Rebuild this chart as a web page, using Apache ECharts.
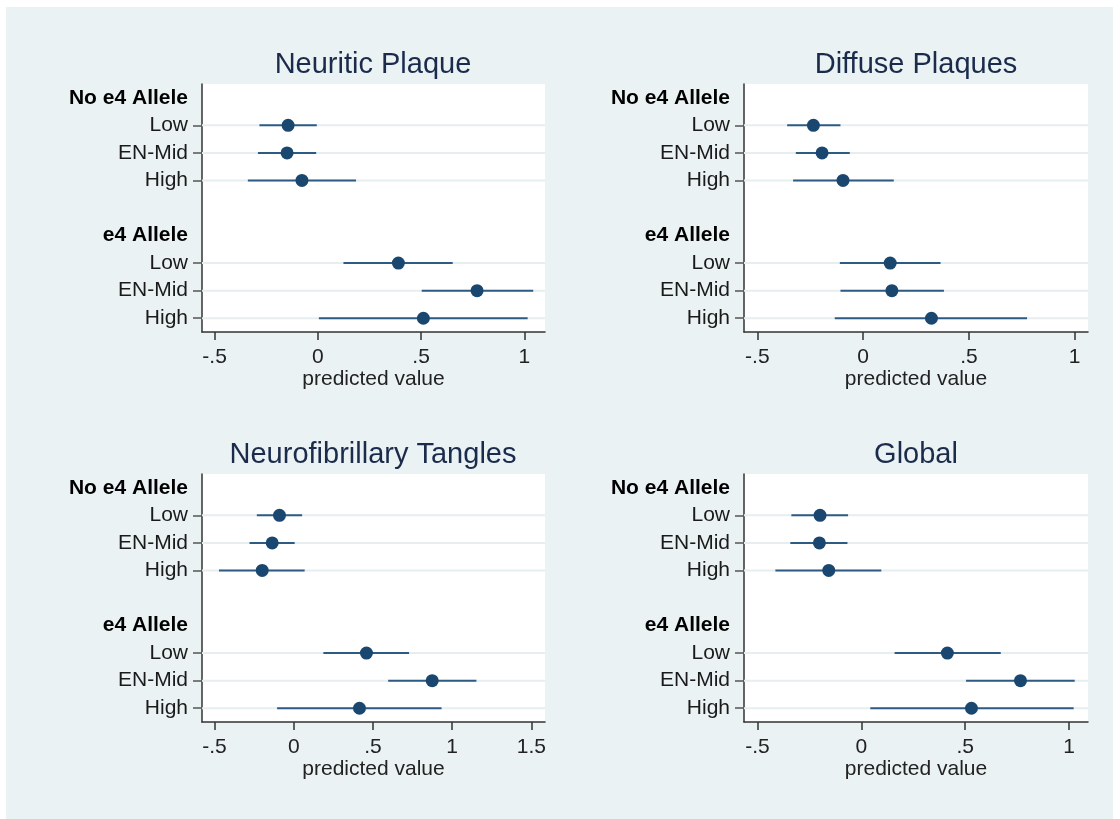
<!DOCTYPE html>
<html>
<head>
<meta charset="utf-8">
<script src="https://cdn.jsdelivr.net/npm/echarts@6/dist/echarts.min.js"></script>
<style>
  html, body { margin: 0; padding: 0; background: #ffffff; }
  #bg { position: absolute; left: 6px; top: 7px; width: 1107px; height: 812px; background: #EAF2F3; }
  #chart { position: absolute; left: 0; top: 0; width: 1120px; height: 819px; }
</style>
</head>
<body>
<div id="bg"></div>
<div id="chart"></div>
<script>
// ---- data ----
const rowLabels = ['No e4 Allele', 'Low', 'EN-Mid', 'High', '', 'e4 Allele', 'Low', 'EN-Mid', 'High'];
const headerRows = [0, 5];
const dataRows = [1, 2, 3, 6, 7, 8];

const titles = ['Neuritic Plaque', 'Diffuse Plaques', 'Neurofibrillary Tangles', 'Global'];

const npEst = [-0.144, -0.149, -0.077, 0.390, 0.771, 0.511];
const npLo  = [-0.283, -0.290, -0.339, 0.124, 0.503, 0.005];
const npHi  = [-0.005, -0.008, 0.185, 0.653, 1.043, 1.016];

const dpEst = [-0.235, -0.194, -0.095, 0.128, 0.136, 0.323];
const dpLo  = [-0.359, -0.318, -0.331, -0.110, -0.107, -0.134];
const dpHi  = [-0.107, -0.063, 0.145, 0.366, 0.382, 0.775];

const nftEst = [-0.090, -0.136, -0.199, 0.459, 0.874, 0.415];
const nftLo  = [-0.233, -0.279, -0.472, 0.187, 0.596, -0.105];
const nftHi  = [0.053, 0.006, 0.069, 0.728, 1.153, 0.933];

const glEst = [-0.199, -0.202, -0.157, 0.414, 0.766, 0.530];
const glLo  = [-0.337, -0.342, -0.414, 0.160, 0.504, 0.043];
const glHi  = [-0.064, -0.067, 0.096, 0.671, 1.027, 1.022];

const ticksA = [-0.5, 0, 0.5, 1];
const tickLabelsA = ['-.5', '0', '.5', '1'];
const ticksB = [-0.5, 0, 0.5, 1, 1.5];
const tickLabelsB = ['-.5', '0', '.5', '1', '1.5'];

const xAxisTitle = 'predicted value';

// ---- layout ----
const panels = [
  { est: npEst, lo: npLo, hi: npHi, ticks: ticksA, tl: tickLabelsA, min: -0.561, max: 1.100,
    grid: { left: 202, top: 84, width: 343, height: 248 }, tx: 373, ty: 65 },
  { est: dpEst, lo: dpLo, hi: dpHi, ticks: ticksA, tl: tickLabelsA, min: -0.563, max: 1.063,
    grid: { left: 744, top: 84, width: 344, height: 248 }, tx: 916, ty: 65 },
  { est: nftEst, lo: nftLo, hi: nftHi, ticks: ticksB, tl: tickLabelsB, min: -0.579, max: 1.586,
    grid: { left: 202, top: 474, width: 343, height: 248 }, tx: 373, ty: 455 },
  { est: glEst, lo: glLo, hi: glHi, ticks: ticksA, tl: tickLabelsA, min: -0.565, max: 1.091,
    grid: { left: 744, top: 474, width: 344, height: 248 }, tx: 916, ty: 455 }
];

const FONT = '"Liberation Sans", Arial, Helvetica, sans-serif';
const NAVY = '#1A476F';

const grids = [], xAxes = [], yAxes = [], series = [], graphics = [];

panels.forEach((p, k) => {
  grids.push(Object.assign({ show: true, backgroundColor: '#ffffff', borderWidth: 0, outerBoundsMode: 'none', containLabel: false }, p.grid));
  xAxes.push({
    type: 'value', gridIndex: k, min: p.min, max: p.max, position: 'bottom',
    name: xAxisTitle, nameLocation: 'middle', nameGap: 36,
    nameTextStyle: { fontSize: 21, color: '#222', fontFamily: FONT },
    axisLine: { show: true, onZero: false, lineStyle: { color: '#333', width: 1.5 } },
    axisTick: { show: true, length: 8, customValues: p.ticks, lineStyle: { color: '#333', width: 1.5 } },
    axisLabel: {
      show: true, customValues: p.ticks, margin: 15, fontSize: 21, color: '#222', fontFamily: FONT,
      formatter: (v) => { const i = p.ticks.findIndex(t => Math.abs(t - v) < 1e-9); return i >= 0 ? p.tl[i] : ''; }
    },
    splitLine: { show: false }
  });
  yAxes.push({
    type: 'category', gridIndex: k, data: rowLabels, inverse: true, boundaryGap: true,
    axisLine: { show: true, onZero: false, lineStyle: { color: '#333', width: 1.5 } },
    axisTick: { show: true, alignWithLabel: true, length: 9, interval: (i) => dataRows.indexOf(i) >= 0,
      lineStyle: { color: '#555', width: 1.5 } },
    axisLabel: {
      show: true, interval: 0, margin: 14, fontSize: 21, color: '#1a1a1a', fontFamily: FONT,
      formatter: (value, index) => headerRows.indexOf(index) >= 0 ? '{b|' + value + '}' : value,
      rich: { b: { fontWeight: 'bold', fontSize: 21, color: '#000', fontFamily: FONT } }
    },
    splitLine: { show: false }
  });

  const ciData = dataRows.map((r, i) => [p.lo[i], p.hi[i], r]);
  const ptData = dataRows.map((r, i) => [p.est[i], r]);

  series.push({
    type: 'custom', xAxisIndex: k, yAxisIndex: k, data: ciData,
    encode: { x: [0, 1], y: 2 },
    renderItem: (params, api) => {
      const a = api.coord([api.value(0), api.value(2)]);
      const b = api.coord([api.value(1), api.value(2)]);
      const cs = params.coordSys;
      return {
        type: 'group',
        children: [
          { type: 'line', shape: { x1: cs.x, y1: a[1], x2: cs.x + cs.width, y2: a[1] },
            style: { stroke: '#E6EEF0', lineWidth: 2 } },
          { type: 'line', shape: { x1: a[0], y1: a[1], x2: b[0], y2: b[1] },
            style: { stroke: '#2E5B84', lineWidth: 2 } }
        ]
      };
    },
    silent: true
  });
  series.push({
    type: 'scatter', xAxisIndex: k, yAxisIndex: k, data: ptData,
    symbol: 'circle', symbolSize: 13, itemStyle: { color: NAVY, opacity: 1 }, silent: true
  });

  graphics.push({
    type: 'text', x: p.tx, y: p.ty,
    style: { text: titles[k], fontSize: 29, fontFamily: FONT, fill: '#1B2B4B', textAlign: 'center', textVerticalAlign: 'middle' }
  });
});

const chart = echarts.init(document.getElementById('chart'), null, { renderer: 'canvas' });
chart.setOption({
  backgroundColor: 'transparent',
  animation: false,
  grid: grids,
  xAxis: xAxes,
  yAxis: yAxes,
  series: series,
  graphic: graphics
});
</script>
</body>
</html>
